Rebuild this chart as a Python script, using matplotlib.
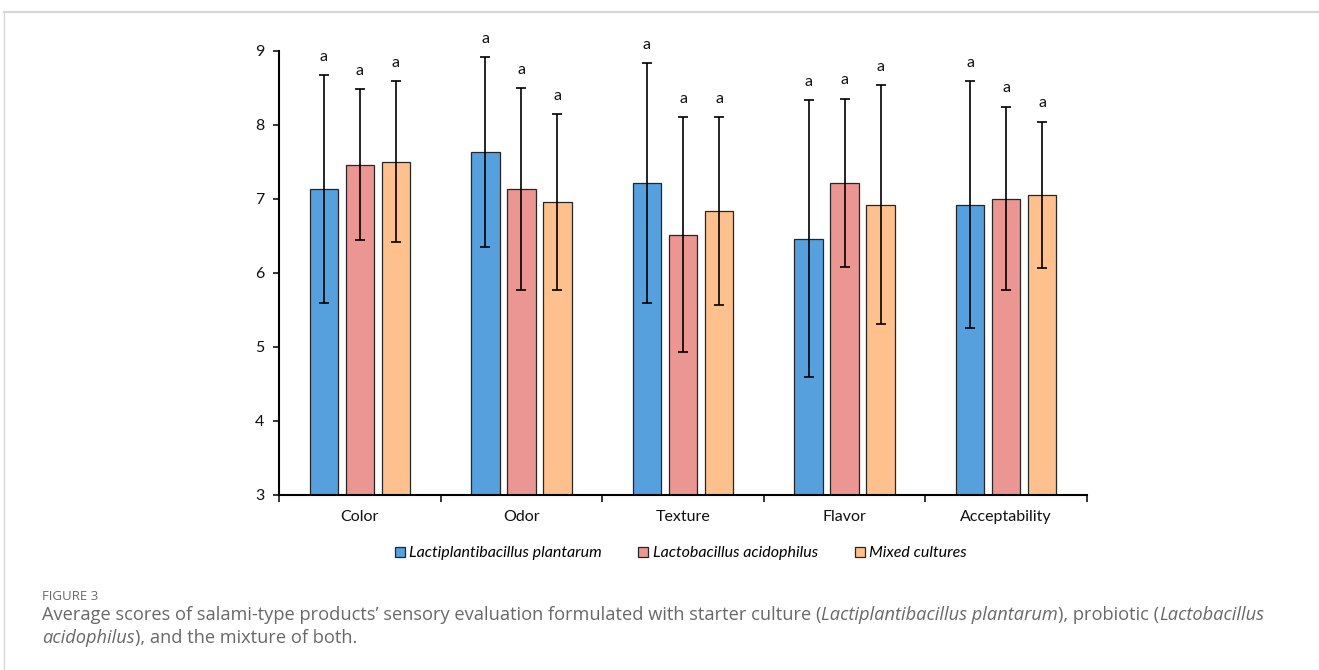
import numpy as np
import matplotlib
matplotlib.use("Agg")
import matplotlib.pyplot as plt
from matplotlib.lines import Line2D

# Sensory scores (mean ± SD) per attribute and culture
attributes = ["Color", "Odor", "Texture", "Flavor", "Acceptability"]
cultures = ["Lactiplantibacillus plantarum", "Lactobacillus acidophilus", "Mixed cultures"]
plantarum_mean = [7.13, 7.63, 7.21, 6.46, 6.92]
plantarum_sd = [1.54, 1.28, 1.62, 1.87, 1.67]
acidophilus_mean = [7.46, 7.13, 6.51, 7.21, 7.00]
acidophilus_sd = [1.02, 1.36, 1.59, 1.14, 1.24]
mixed_mean = [7.50, 6.95, 6.83, 6.92, 7.05]
mixed_sd = [1.09, 1.19, 1.27, 1.61, 0.99]
letters = [["a", "a", "a"], ["a", "a", "a"], ["a", "a", "a"], ["a", "a", "a"], ["a", "a", "a"]]

colors = ["#56A0DD", "#EB9692", "#FEC18D"]
CHART_FONT = "Lato"
CAPTION_FONT = "Open Sans"
FS = 11.5

W, H = 1319, 670
fig = plt.figure(figsize=(W / 100, H / 100), dpi=100)
ax = fig.add_axes([279 / W, 1 - 494.5 / H, (1087 - 279) / W, (494.5 - 50.7) / H])

means = [plantarum_mean, acidophilus_mean, mixed_mean]
sds = [plantarum_sd, acidophilus_sd, mixed_sd]
x = np.arange(len(attributes)) + 0.5
width = 0.176
step = 0.223
for j in range(3):
    pos = x + (j - 1) * step
    ax.bar(pos, means[j], width, color=colors[j], edgecolor="#262626", linewidth=0.9,
           label=cultures[j], zorder=2)
    ax.errorbar(pos, means[j], yerr=sds[j], fmt="none", ecolor="black",
                elinewidth=1.2, capsize=3.3, capthick=1.2, zorder=3)
    for i, p in enumerate(pos):
        ax.text(p, means[j][i] + sds[j][i] + 0.25, letters[i][j], ha="center", va="center",
                fontsize=FS, family=CHART_FONT, color="#111")

ax.set_xlim(0, len(attributes))
ax.set_ylim(3, 9)
ax.set_yticks(range(3, 10))
ax.set_xticks(range(len(attributes) + 1))
ax.set_xticklabels([])
ax.set_xticks(x, minor=True)
ax.set_xticklabels(attributes, minor=True)
ax.tick_params(axis="x", which="major", length=5, width=1.1, direction="out")
ax.tick_params(axis="x", which="minor", length=0, pad=11.5)
ax.tick_params(axis="y", length=4.5, width=1.1, pad=6)
for lab in ax.get_xticklabels(minor=True) + ax.get_yticklabels():
    lab.set_family(CHART_FONT)
    lab.set_fontsize(FS)
    lab.set_color("#111")
for side in ("top", "right"):
    ax.spines[side].set_visible(False)
for side in ("left", "bottom"):
    ax.spines[side].set_linewidth(1.5)

handles = [Line2D([], [], marker="s", linestyle="none", markersize=7.5,
                  markerfacecolor=c, markeredgecolor="#262626", markeredgewidth=0.9)
           for c in colors]
fig.legend(handles, cultures, loc="center", bbox_to_anchor=(680 / W, 1 - 553 / H),
           ncol=3, frameon=False, handlelength=0.8, handletextpad=0.2, columnspacing=2.2,
           prop={"family": CHART_FONT, "style": "italic", "size": FS})

# page frame lines around the figure
fig.add_artist(Line2D([4 / W, 1], [1 - 12 / H] * 2, color="#d6d6d6", linewidth=1.6))
fig.add_artist(Line2D([4 / W, 4 / W], [0, 1 - 12 / H], color="#d6d6d6", linewidth=0.9))

fig.text(42 / W, 1 - 597 / H, "FIGURE 3", family=CAPTION_FONT, fontsize=9.5,
         color="#6a6a6a", va="center")


def rich_line(x_px, y_px, parts, size=13.15, color="#686868"):
    renderer = fig.canvas.get_renderer()
    cur = x_px
    for text, italic in parts:
        t = fig.text(cur / W, 1 - y_px / H, text, family=CAPTION_FONT, fontsize=size,
                     style="italic" if italic else "normal", color=color, va="center")
        cur += t.get_window_extent(renderer).width


rich_line(42, 615, [
    ("Average scores of salami-type products’ sensory evaluation formulated with starter culture (", False),
    ("Lactiplantibacillus plantarum", True),
    ("), probiotic (", False),
    ("Lactobacillus", True),
])
rich_line(42, 638, [
    ("acidophilus", True),
    ("), and the mixture of both.", False),
])

fig.savefig("out.png", dpi=100)
